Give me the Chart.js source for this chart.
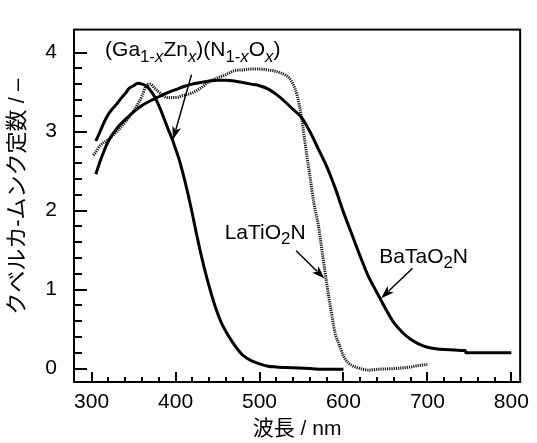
<!DOCTYPE html>
<html>
<head>
<meta charset="utf-8">
<script src="https://cdn.jsdelivr.net/npm/chart.js@4.4.1/dist/chart.umd.min.js"></script>
<style>
  html, body { margin: 0; padding: 0; background: #fff; }
  canvas { display: block; }
</style>
</head>
<body>
<canvas id="km" width="537" height="443"></canvas>
<script>
const FONT = "'Liberation Sans', Arial, 'Noto Sans CJK JP', sans-serif";

// wavelength (nm) and Kubelka-Munk values for each sample
const gaWave = [305, 310, 315, 320, 325, 330, 335, 340, 345, 350, 355, 360, 365, 370, 375, 380, 385, 390, 395,
  400, 405, 410, 415, 420, 425, 430, 435, 440, 445, 450, 455, 460, 465, 470, 475, 480, 490, 500, 510, 520, 540, 560, 580, 600];
const gaKm = [2.88, 3.0, 3.12, 3.22, 3.29, 3.35, 3.42, 3.48, 3.55, 3.58, 3.61, 3.6, 3.58, 3.52, 3.44, 3.33, 3.2, 3.06, 2.93,
  2.78, 2.62, 2.42, 2.2, 1.96, 1.7, 1.46, 1.24, 1.04, 0.86, 0.7, 0.57, 0.47, 0.38, 0.3, 0.23, 0.17, 0.1, 0.06, 0.03, 0.02, 0.01, 0.0, -0.01, -0.01];

const laWave = [302, 305, 310, 320, 330, 340, 350, 360, 365, 370, 375, 380, 390, 400, 410, 420, 430, 440, 450, 460, 470,
  480, 490, 500, 510, 520, 530, 535, 540, 545, 550, 555, 560, 565, 570, 575, 580, 585, 590, 595, 600, 605, 610, 620,
  630, 640, 660, 680, 690, 700];
const laKm = [2.7, 2.74, 2.82, 2.9, 3.0, 3.12, 3.26, 3.45, 3.58, 3.6, 3.55, 3.5, 3.43, 3.43, 3.46, 3.49, 3.55, 3.63, 3.68, 3.72, 3.77,
  3.78, 3.79, 3.79, 3.78, 3.76, 3.72, 3.68, 3.6, 3.45, 3.18, 2.8, 2.44, 2.08, 1.82, 1.45, 1.08, 0.75, 0.45, 0.3, 0.16, 0.08, 0.04, 0.0,
  -0.02, -0.01, 0.0, 0.02, 0.04, 0.05];

const baWave = [305, 310, 315, 320, 330, 340, 350, 360, 370, 380, 390, 400, 410, 420, 430, 440, 450, 460, 470, 480, 490, 500,
  510, 520, 530, 540, 550, 560, 570, 580, 590, 600, 610, 620, 630, 640, 650, 660, 670, 680, 690, 700, 710, 720, 740, 745, 746, 800];
const baKm = [2.46, 2.62, 2.76, 2.88, 3.04, 3.15, 3.25, 3.33, 3.39, 3.44, 3.49, 3.53, 3.57, 3.6, 3.62, 3.64, 3.65, 3.65, 3.64, 3.62, 3.6, 3.58,
  3.54, 3.47, 3.38, 3.28, 3.18, 3.0, 2.78, 2.56, 2.29, 1.98, 1.7, 1.42, 1.16, 0.96, 0.76, 0.58, 0.46, 0.37, 0.31, 0.27, 0.25, 0.24, 0.23, 0.23, 0.2, 0.2];

const xTicks = [300, 400, 500, 600, 700, 800];
const yTicks = [0, 1, 2, 3, 4];
const yTitle = 'クベルカ-ムンク定数 / –';

// label text (baseline-left anchor) and arrow (tail -> head), in data units
const labels = [
  { at: [316, 3.95], arrow: [[419, 3.72], [397, 2.9]],
    parts: [{ t: '(Ga' }, { t: '1-', sub: 1 }, { t: 'x', sub: 1, it: 1 }, { t: 'Zn' }, { t: 'x', sub: 1, it: 1 },
            { t: ')(N' }, { t: '1-', sub: 1 }, { t: 'x', sub: 1, it: 1 }, { t: 'O' }, { t: 'x', sub: 1, it: 1 }, { t: ')' }] },
  { at: [458.5, 1.64], arrow: [[543.6, 1.49], [577.4, 1.14]],
    parts: [{ t: 'LaTiO' }, { t: '2', sub: 1 }, { t: 'N' }] },
  { at: [642.7, 1.34], arrow: [[682.3, 1.27], [645, 0.89]],
    parts: [{ t: 'BaTaO' }, { t: '2', sub: 1 }, { t: 'N' }] }
];

const toPoints = (xs, ys) => xs.map((x, i) => ({ x: x, y: ys[i] }));

function drawRich(ctx, parts, x, y, size) {
  let cx = x;
  parts.forEach(p => {
    const fs = p.sub ? size * 0.8 : size;
    ctx.font = (p.it ? 'italic ' : '') + fs + 'px ' + FONT;
    ctx.fillText(p.t, cx, y + (p.sub ? size * 0.24 : 0));
    cx += ctx.measureText(p.t).width;
  });
}

function drawArrow(ctx, x1, y1, x2, y2) {
  const a = Math.atan2(y2 - y1, x2 - x1);
  const len = 13, half = 4.5;
  ctx.beginPath();
  ctx.moveTo(x1, y1);
  ctx.lineTo(x2 - Math.cos(a) * len * 0.8, y2 - Math.sin(a) * len * 0.8);
  ctx.stroke();
  ctx.beginPath();
  ctx.moveTo(x2, y2);
  ctx.lineTo(x2 - Math.cos(a) * len - Math.sin(a) * half, y2 - Math.sin(a) * len + Math.cos(a) * half);
  ctx.lineTo(x2 - Math.cos(a) * len * 0.75, y2 - Math.sin(a) * len * 0.75);
  ctx.lineTo(x2 - Math.cos(a) * len + Math.sin(a) * half, y2 - Math.sin(a) * len - Math.cos(a) * half);
  ctx.closePath();
  ctx.fill();
}

// box frame, inward ticks, y title, labels and arrows
const framePlugin = {
  id: 'frame',
  afterDraw(chart) {
    const { ctx, chartArea: ca, scales: { x, y } } = chart;
    ctx.save();
    ctx.strokeStyle = '#000';
    ctx.fillStyle = '#000';
    ctx.lineWidth = 2;
    ctx.strokeRect(ca.left, ca.top, ca.right - ca.left, ca.bottom - ca.top);

    ctx.beginPath();
    for (let v = 300; v <= 800; v += 20) {
      const px = Math.round(x.getPixelForValue(v));
      const l = v % 100 === 0 ? 10 : 5;
      ctx.moveTo(px, ca.bottom);
      ctx.lineTo(px, ca.bottom - l);
    }
    for (let i = 0; i <= 20; i++) {
      const py = Math.round(y.getPixelForValue(i * 0.2));
      const l = i % 5 === 0 ? 13 : 8;
      ctx.moveTo(ca.left, py);
      ctx.lineTo(ca.left + l, py);
    }
    ctx.stroke();

    // rotated y title, sitting a little above the middle of the axis
    ctx.save();
    ctx.translate(18, (ca.top + ca.bottom) / 2 - 9);
    ctx.rotate(-Math.PI / 2);
    ctx.font = '22px ' + FONT;
    ctx.textAlign = 'center';
    ctx.textBaseline = 'middle';
    ctx.fillText(yTitle, 0, 0);
    ctx.restore();

    ctx.lineWidth = 1.5;
    ctx.textBaseline = 'alphabetic';
    labels.forEach(lb => {
      drawRich(ctx, lb.parts, x.getPixelForValue(lb.at[0]), y.getPixelForValue(lb.at[1]), 21);
      const [t, h] = lb.arrow;
      drawArrow(ctx, x.getPixelForValue(t[0]), y.getPixelForValue(t[1]),
        x.getPixelForValue(h[0]), y.getPixelForValue(h[1]));
    });
    ctx.restore();
  }
};

new Chart(document.getElementById('km'), {
  type: 'line',
  data: {
    datasets: [
      { label: 'BaTaO2N', data: toPoints(baWave, baKm), borderColor: '#000', borderWidth: 3 },
      { label: 'LaTiO2N', data: toPoints(laWave, laKm), borderColor: '#1a1a1a', borderWidth: 3, borderDash: [1.2, 1] },
      { label: '(Ga1-xZnx)(N1-xOx)', data: toPoints(gaWave, gaKm), borderColor: '#000', borderWidth: 3 }
    ]
  },
  options: {
    responsive: false,
    animation: false,
    layout: { padding: { left: 0, right: 7, top: 12, bottom: 0 } },
    elements: { point: { radius: 0 }, line: { cubicInterpolationMode: 'monotone' } },
    plugins: { legend: { display: false }, tooltip: { enabled: false } },
    scales: {
      x: {
        type: 'linear', min: 279, max: 810.5,
        afterBuildTicks: s => { s.ticks = xTicks.map(v => ({ value: v })); },
        afterFit: s => { s.height = 61; },
        grid: { display: false, drawTicks: false },
        border: { display: false },
        ticks: { color: '#000', padding: 8, font: { family: FONT, size: 21 } },
        title: { display: true, text: '波長 / nm', color: '#000', padding: { top: 0, bottom: 1 }, font: { family: FONT, size: 21 } }
      },
      y: {
        min: -0.17, max: 4.29,
        afterBuildTicks: s => { s.ticks = yTicks.map(v => ({ value: v })); },
        afterFit: s => { s.width = 74; },
        grid: { display: false, drawTicks: false },
        border: { display: false },
        ticks: { color: '#000', padding: 17, font: { family: FONT, size: 21 } }
      }
    }
  },
  plugins: [framePlugin]
});
</script>
</body>
</html>
